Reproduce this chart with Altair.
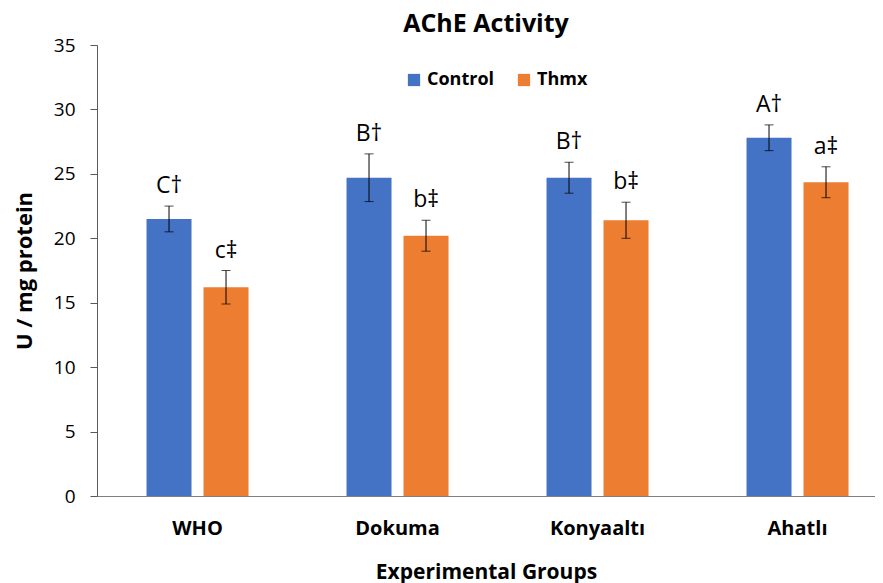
import altair as alt
import pandas as pd

groups = ["WHO", "Dokuma", "Konyaaltı", "Ahatlı"]
series = ["Control", "Thmx"]
control_vals = [21.5, 24.7, 24.7, 27.8]
control_err = [1.0, 1.85, 1.2, 1.0]
control_lbl = ["C†", "B†", "B†", "A†"]
thmx_vals = [16.2, 20.2, 21.4, 24.35]
thmx_err = [1.3, 1.2, 1.4, 1.2]
thmx_lbl = ["c‡", "b‡", "b‡", "a‡"]
colors = ["#4472C4", "#ED7D31"]

rows = []
for i, g in enumerate(groups):
    rows.append(dict(group=g, series="Control", value=control_vals[i], err=control_err[i], label=control_lbl[i]))
    rows.append(dict(group=g, series="Thmx", value=thmx_vals[i], err=thmx_err[i], label=thmx_lbl[i]))
df = pd.DataFrame(rows)
df["lo"] = df["value"] - df["err"]
df["hi"] = df["value"] + df["err"]

FONT = "Open Sans"

x = alt.X("group:N", sort=groups, title="Experimental Groups",
          scale=alt.Scale(paddingInner=0.43, paddingOuter=0.16, align=0.68),
          axis=alt.Axis(labelAngle=0, ticks=False, labelFontWeight="bold", labelFontSize=20,
                        labelColor="#000000", labelPadding=22, titlePadding=23,
                        titleFontSize=21, domainColor="#7f7f7f"))
xo = alt.XOffset("series:N", sort=series, scale=alt.Scale(paddingInner=0, paddingOuter=0))
yscale = alt.Scale(domain=[0, 35])

bars = alt.Chart(df).mark_bar(width=45).encode(
    x=x, xOffset=xo,
    y=alt.Y("value:Q", scale=yscale, title="U / mg protein",
            axis=alt.Axis(values=[0, 5, 10, 15, 20, 25, 30, 35], grid=False, tickSize=7,
                          labelFontSize=19, labelColor="#000000", labelPadding=15,
                          titleFontSize=22, titlePadding=17, domainColor="#595959",
                          tickColor="#595959")),
    color=alt.Color("series:N", sort=series, scale=alt.Scale(domain=series, range=colors),
                    legend=alt.Legend(title=None, orient="none", legendX=308, legendY=26,
                                      direction="horizontal", symbolType="square",
                                      symbolSize=150, symbolStrokeWidth=0,
                                      labelFontSize=18, labelFontWeight="bold",
                                      labelColor="#000000", columnPadding=20))
)

rules = alt.Chart(df).mark_rule(color="#000000", strokeWidth=1).encode(
    x=x, xOffset=xo, y=alt.Y("lo:Q", scale=yscale), y2="hi:Q")

caps_lo = alt.Chart(df).mark_tick(color="#000000", thickness=1, size=9).encode(
    x=x, xOffset=xo, y=alt.Y("lo:Q", scale=yscale))
caps_hi = alt.Chart(df).mark_tick(color="#000000", thickness=1, size=9).encode(
    x=x, xOffset=xo, y=alt.Y("hi:Q", scale=yscale))

texts = alt.Chart(df).mark_text(fontSize=23, baseline="alphabetic", dy=-13, font=FONT,
                                color="#000000").encode(
    x=x, xOffset=xo, y=alt.Y("hi:Q", scale=yscale), text="label:N")

chart = alt.layer(bars, rules, caps_lo, caps_hi, texts).properties(
    width=778, height=451,
    padding={"left": 5, "top": 4, "right": 0, "bottom": 4},
    title=alt.TitleParams("AChE Activity", fontSize=25, fontWeight="bold", font=FONT,
                          color="#000000", offset=-1),
).configure(font=FONT).configure_view(stroke=None).configure_axis(
    titleFont=FONT, labelFont=FONT, titleFontWeight="bold", titleColor="#000000"
).configure_legend(labelFont=FONT)

chart.save("out.html", embed_options={"renderer": "svg", "actions": False})
